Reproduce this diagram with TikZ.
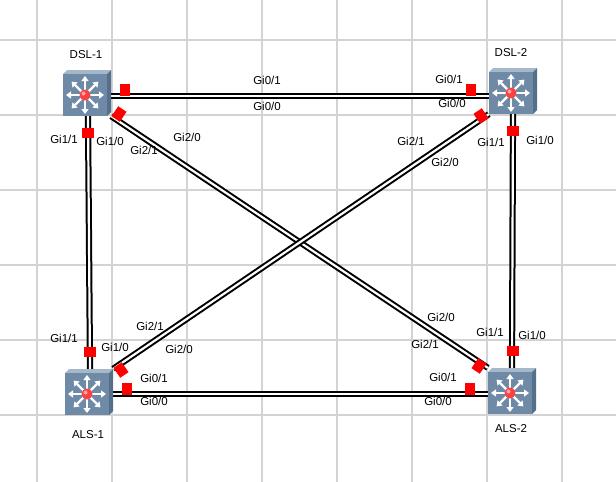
\documentclass[tikz,border=0pt]{standalone}
\usepackage{fontspec}
\setmainfont{Liberation Sans}
\usetikzlibrary{arrows.meta}
\definecolor{sw}{HTML}{6F8AA6}
\definecolor{swtop}{HTML}{A5B8CA}
\definecolor{swside}{HTML}{56708B}
\definecolor{gridc}{HTML}{D3D3D3}
\tikzset{
  lnk/.style={draw=black, line width=2pt, double=white, double distance=2.2pt},
  port/.style={fill=red, draw=none, minimum width=10pt, minimum height=12pt, inner sep=0pt},
  lbl/.style={font=\fontsize{11.5}{12}\selectfont, inner sep=0pt},
  dev/.style={minimum width=48pt, minimum height=46pt, inner sep=0pt},
  pics/switch/.style={code={
    \fill[swtop] (-24,-19) -- (-20,-23) -- (24,-23) -- (20,-19) -- cycle;
    \fill[swside] (20,-19) -- (24,-23) -- (24,19) -- (20,23) -- cycle;
    \fill[sw] (-24,-19) rectangle (20,23);
    \foreach \a in {0,45,...,315}{
      \draw[white, line width=2.2pt, -{Triangle[length=5pt,width=7pt]}] (-2,2) -- ++(\a:19);
    }
    \fill[red!75!white] (-2,2) circle (5.5);
    \fill[red!35!white] (-3.5,0.5) circle (2);
  }}
}
\begin{document}
\begin{tikzpicture}[x=1pt,y=-1pt]
\useasboundingbox (0,0) rectangle (616,482);
\fill[white] (0,0) rectangle (616,482);
\foreach \x in {37,112,...,600} \draw[gridc, line width=2.2pt] (\x,0) -- (\x,482);
\foreach \y in {40,115,...,480} \draw[gridc, line width=2.2pt] (0,\y) -- (616,\y);

\node[dev] (d1) at (87,93) {};
\node[dev] (d2) at (513,91) {};
\node[dev] (a1) at (89,392) {};
\node[dev] (a2) at (512,391) {};

% links
\draw[lnk] ([yshift=-3pt]d1.east) -- ([yshift=-3pt]d1.east -| d2.west);
\draw[lnk] ([yshift=-2pt]a1.east) -- ([yshift=-2pt]a1.east -| a2.west);
\draw[lnk] ([xshift=1pt]d1.south) -- ([xshift=1pt]a1.north);
\draw[lnk] (d2.south) -- (a2.north);
\draw[lnk] (d1.south east) -- (a2.north west);
\draw[lnk] (d2.south west) -- (a1.north east);

\foreach \n in {d1,d2,a1,a2} \pic at (\n) {switch};

% ports
\node[port] (p1) at (125,90) {};
\node[port] (p2) at (471,90) {};
\node[port] (p3) at (127,389) {};
\node[port] (p4) at (470,389) {};
\node[port, minimum width=12pt, minimum height=10pt] (p5) at (88,133) {};
\node[port, minimum width=12pt, minimum height=10pt] (p6) at (90,352) {};
\node[port, minimum width=12pt, minimum height=10pt] (p7) at (513,131) {};
\node[port, minimum width=12pt, minimum height=10pt] (p8) at (513,351) {};
\node[port, rotate=-34] (p9) at (119,114) {};
\node[port, rotate=-34] (p10) at (479,366) {};
\node[port, rotate=34] (p11) at (481,116) {};
\node[port, rotate=34] (p12) at (121,370) {};

% names
\node[lbl] at (86,55) {DSL-1};
\node[lbl] at (511,53) {DSL-2};
\node[lbl] at (88,435) {ALS-1};
\node[lbl] at (511,429) {ALS-2};

% labels
\node[lbl] at (267,80) {Gi0/1};
\node[lbl] at (267,106) {Gi0/0};
\node[lbl] at (449,79) {Gi0/1};
\node[lbl] at (452,103) {Gi0/0};
\node[lbl] at (154,378) {Gi0/1};
\node[lbl] at (154,401) {Gi0/0};
\node[lbl] at (443,377) {Gi0/1};
\node[lbl] at (438,401) {Gi0/0};
\node[lbl] at (64,139) {Gi1/1};
\node[lbl] at (110,141) {Gi1/0};
\node[lbl] at (64,338) {Gi1/1};
\node[lbl] at (115,347) {Gi1/0};
\node[lbl] at (491,142) {Gi1/1};
\node[lbl] at (540,140) {Gi1/0};
\node[lbl] at (490,332) {Gi1/1};
\node[lbl] at (532,335) {Gi1/0};
\node[lbl] at (187,137) {Gi2/0};
\node[lbl] at (144,150) {Gi2/1};
\node[lbl] at (441,317) {Gi2/0};
\node[lbl] at (425,344) {Gi2/1};
\node[lbl] at (411,141) {Gi2/1};
\node[lbl] at (445,162) {Gi2/0};
\node[lbl] at (150,326) {Gi2/1};
\node[lbl] at (179,349) {Gi2/0};
\end{tikzpicture}
\end{document}
